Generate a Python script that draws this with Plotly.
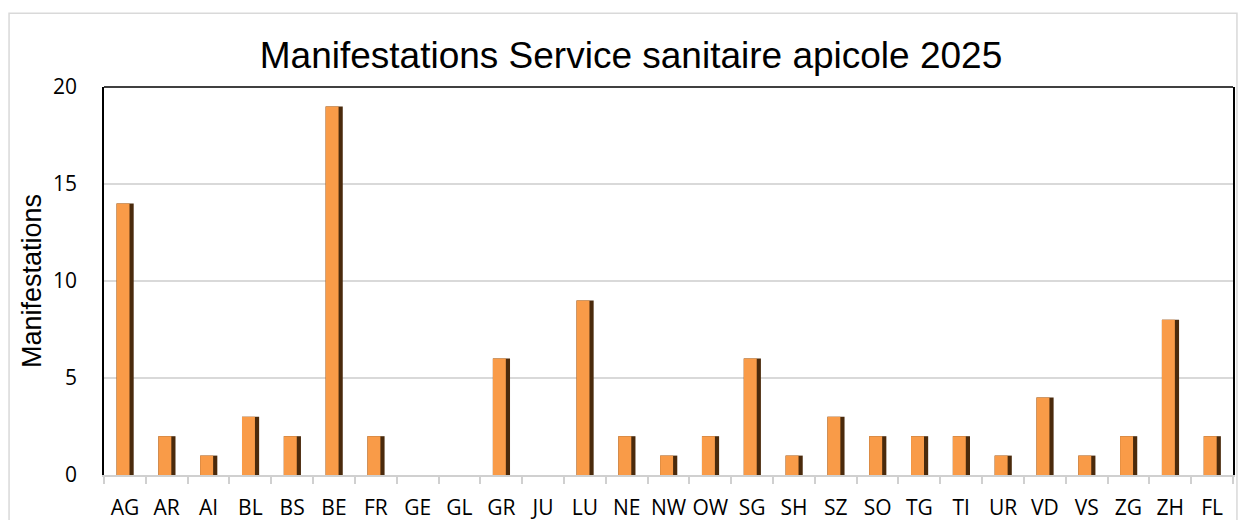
import plotly.graph_objects as go

cantons = ["AG", "AR", "AI", "BL", "BS", "BE", "FR", "GE", "GL", "GR", "JU", "LU", "NE", "NW",
           "OW", "SG", "SH", "SZ", "SO", "TG", "TI", "UR", "VD", "VS", "ZG", "ZH", "FL"]
manifestations = [14, 2, 1, 3, 2, 19, 2, 0, 0, 6, 0, 9, 2, 1, 2, 6, 1, 3, 2, 2, 2, 1, 4, 1, 2, 8, 2]
y_ticks = [0, 5, 10, 15, 20]

fig = go.Figure()
# dark shadow body
fig.add_trace(go.Bar(x=cantons, y=manifestations, width=0.41, offset=-0.20,
                     marker=dict(color="#4a2a0c", line=dict(width=0)),
                     hoverinfo="skip", showlegend=False))
# orange face
fig.add_trace(go.Bar(x=cantons, y=manifestations, width=0.31, offset=-0.20,
                     marker=dict(color="#F99B48", line=dict(width=0)),
                     showlegend=False))

fig.update_layout(
    width=1238, height=512,
    barmode="overlay",
    paper_bgcolor="white", plot_bgcolor="white",
    margin=dict(l=96, r=13, t=79, b=45, autoexpand=False),
    title=dict(text="Manifestations Service sanitaire apicole 2025",
               x=623 / 1238, xref="container", xanchor="center",
               y=1 - 47 / 512, yref="container", yanchor="middle",
               font=dict(family="Liberation Sans, Arial", size=37, color="black")),
    font=dict(family="Open Sans, Liberation Sans", color="black"),
    xaxis=dict(
        type="category", tickson="boundaries", ticks="outside", ticklen=7,
        tickcolor="#d0d0d0", tickwidth=1.5, tickangle=0, automargin=False,
        showline=True, linecolor="#d0d0d0", linewidth=1.5,
        showgrid=False, tickfont=dict(size=21, family="Open Sans, Liberation Sans"),
        ticklabelstandoff=13,
        range=[-0.5, len(cantons) - 0.5], mirror=False,
    ),
    yaxis=dict(
        range=[0, 20], tickvals=y_ticks, showgrid=True, gridcolor="#d9d9d9", gridwidth=1.5,
        showline=True, linecolor="black", linewidth=1.5, mirror=True, automargin=False,
        ticks="", ticklabelstandoff=21, zeroline=False,
        tickfont=dict(size=21, family="Open Sans, Liberation Sans"),
        title=dict(text="Manifestations", font=dict(family="Liberation Sans, Arial", size=27),
                   standoff=4),
    ),
    shapes=[
        dict(type="rect", xref="paper", yref="paper", x0=-0.0841, x1=1.0035,
             y0=-0.2, y1=1.19, line=dict(color="#d9d9d9", width=1.5), layer="below"),
        dict(type="line", xref="paper", yref="paper", x0=0, x1=1, y0=1, y1=1,
             line=dict(color="black", width=1.5)),
    ],
)

fig.write_html("out.html")
